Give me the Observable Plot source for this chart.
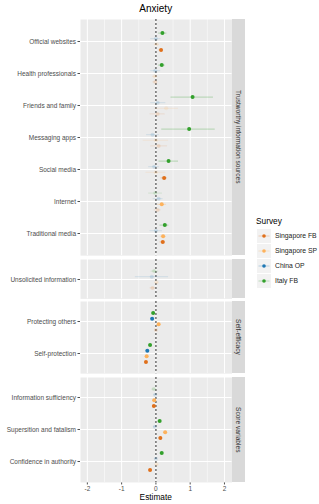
<!DOCTYPE html>
<html><head><meta charset="utf-8">
<script src="https://cdn.jsdelivr.net/npm/d3@7"></script>
<script src="https://cdn.jsdelivr.net/npm/@observablehq/plot@0.6"></script>
<style>
body{margin:0;background:#fff;font-family:"Liberation Sans",Arial,sans-serif;}
#root{position:relative;width:319px;height:504px;overflow:hidden;}
.abs{position:absolute;}
.strip{position:absolute;background:#d9d9d9;display:flex;align-items:center;justify-content:center;}
.strip span{writing-mode:vertical-rl;font-size:6.6px;color:#333;white-space:nowrap;}
</style>
</head><body><div id="root"></div>
<script>
// ---- data ----
const series = ["Singapore FB", "Singapore SP", "China OP", "Italy FB"];
const seriesColors = ["#e0701b", "#fdb25c", "#1f78b4", "#33a02c"];
const groups = ["Trustworthy information sources", "Unsolicited information", "Self-efficacy", "Score variables"];
const groupLabels = ["Trustworthy information sources", "", "Self-efficacy", "Score variables"];
const categories = ["Official websites", "Health professionals", "Friends and family", "Messaging apps", "Social media", "Internet", "Traditional media",
  "Unsolicited information", "Protecting others", "Self-protection", "Information sufficiency", "Supersition and fatalism", "Confidence in authority"];
const categoryGroup = [0,0,0,0,0,0,0,1,2,2,3,3,3];
const xTicks = [-2, -1, 0, 1, 2];

const singaporeFB_est = [0.15, -0.02, 0.05, 0.08, 0.24, 0.05, 0.20, -0.10, 0.00, -0.29, -0.06, 0.13, -0.17];
const singaporeFB_lo  = [0.09, -0.09, -0.17, -0.15, 0.15, -0.05, 0.12, -0.17, -0.04, -0.33, -0.10, 0.09, -0.21];
const singaporeFB_hi  = [0.21, 0.05, 0.27, 0.34, 0.34, 0.15, 0.28, 0.00, 0.04, -0.25, -0.02, 0.17, -0.13];
const singaporeFB_sig = [1,0,0,0,1,0,1,0,0,1,1,1,1];

const singaporeSP_est = [0.02, -0.03, 0.30, 0.00, 0.00, 0.17, 0.21, 0.02, 0.08, -0.27, -0.05, 0.27, 0.02];
const singaporeSP_lo  = [-0.05, -0.10, -0.02, -0.37, -0.29, 0.05, 0.13, -0.04, 0.04, -0.31, -0.09, 0.22, -0.03];
const singaporeSP_hi  = [0.10, 0.05, 0.66, 0.37, 0.29, 0.31, 0.30, 0.08, 0.12, -0.23, -0.01, 0.32, 0.07];
const singaporeSP_sig = [0,0,0,0,0,1,1,0,1,1,1,1,0];

const chinaOP_est = [0.00, -0.02, 0.05, -0.10, -0.05, 0.08, 0.00, -0.12, -0.11, -0.25, -0.02, -0.03, 0.00];
const chinaOP_lo  = [-0.15, -0.15, -0.15, -0.27, -0.21, -0.08, -0.17, -0.60, -0.15, -0.29, -0.06, -0.07, -0.04];
const chinaOP_hi  = [0.15, 0.14, 0.29, 0.10, 0.10, 0.21, 0.19, 0.37, -0.07, -0.21, 0.02, 0.01, 0.04];
const chinaOP_sig = [0,0,0,0,0,0,0,0,1,1,0,0,0];

const italyFB_est = [0.19, 0.17, 1.07, 0.97, 0.37, -0.02, 0.26, -0.05, -0.08, -0.17, -0.06, 0.11, 0.17];
const italyFB_lo  = [0.08, 0.08, 0.44, 0.17, 0.09, -0.21, 0.12, -0.14, -0.12, -0.21, -0.12, 0.06, 0.12];
const italyFB_hi  = [0.32, 0.27, 1.68, 1.73, 0.66, 0.19, 0.38, 0.08, -0.04, -0.13, 0.00, 0.16, 0.22];
const italyFB_sig = [1,1,1,1,1,0,1,0,1,1,0,1,1];

// ---- build table ----
const seriesData = [
  [singaporeFB_est, singaporeFB_lo, singaporeFB_hi, singaporeFB_sig],
  [singaporeSP_est, singaporeSP_lo, singaporeSP_hi, singaporeSP_sig],
  [chinaOP_est, chinaOP_lo, chinaOP_hi, chinaOP_sig],
  [italyFB_est, italyFB_lo, italyFB_hi, italyFB_sig]
];
const rows = [];
series.forEach((s, i) => {
  const [e, lo, hi, sig] = seriesData[i];
  categories.forEach((c, j) => {
    rows.push({series: s, category: c, group: categoryGroup[j], est: e[j], lo: lo[j], hi: hi[j], sig: sig[j]});
  });
});

// ---- layout ----
const root = document.getElementById("root");
const step = 32.8;
const gap = 3.4;
const left = 80, right = 231.5;
const dodge = {"Italy FB": -8.4, "China OP": -2.8, "Singapore SP": 2.8, "Singapore FB": 8.4};
const font = "'Liberation Sans', Arial, sans-serif";

const title = document.createElement("div");
title.className = "abs";
Object.assign(title.style, {left: left + "px", width: (right - left) + "px", top: "3px", textAlign: "center", fontSize: "10px", color: "#000"});
title.textContent = "Anxiety";
root.appendChild(title);

let yPos = 19;
groups.forEach((g, gi) => {
  const cats = categories.filter((c, j) => categoryGroup[j] === gi);
  const H = (cats.length - 1 + 1.2) * step;
  const last = gi === groups.length - 1;
  const data = rows.filter(d => d.group === gi);
  const marks = [
    Plot.frame({fill: "#ebebeb", stroke: null}),
    Plot.ruleX([-1.5, -0.5, 0.5, 1.5], {stroke: "#fff", strokeWidth: 0.5}),
    Plot.ruleX(xTicks, {stroke: "#fff", strokeWidth: 1}),
    Plot.ruleY(cats, {stroke: "#fff", strokeWidth: 1}),
    Plot.ruleX([0], {stroke: "#6e6e6e", strokeWidth: 1.5, strokeDasharray: "2,2"})
  ];
  series.forEach(s => {
    const sd = data.filter(d => d.series === s);
    marks.push(Plot.ruleY(sd, {y: "category", x1: "lo", x2: "hi", dy: dodge[s], stroke: "series", strokeWidth: 0.7, strokeOpacity: d => d.sig ? 0.45 : 0.2}));
    marks.push(Plot.dot(sd, {x: "est", y: "category", dy: dodge[s], fill: "series", r: 2, stroke: null, fillOpacity: d => d.sig ? 1 : 0.15}));
  });
  const chart = Plot.plot({
    width: 319,
    height: H + (last ? 20 : 0),
    marginLeft: left, marginRight: 319 - right, marginTop: 0, marginBottom: last ? 20 : 0,
    style: {fontSize: "6.5px", fontFamily: font, color: "#4d4d4d", background: "transparent", overflow: "visible"},
    x: {domain: [-2.2, 2.22], ticks: xTicks, tickFormat: d => String(d), tickSize: last ? 2.5 : 0, tickPadding: 1.5, label: null, axis: last ? "bottom" : null},
    y: {type: "point", domain: cats, padding: 0.6, tickSize: 2.5, tickPadding: 2, label: null},
    color: {domain: series, range: seriesColors},
    marks
  });
  const wrap = document.createElement("div");
  wrap.className = "abs";
  Object.assign(wrap.style, {left: "0px", top: yPos + "px"});
  wrap.appendChild(chart);
  root.appendChild(wrap);

  const strip = document.createElement("div");
  strip.className = "strip";
  Object.assign(strip.style, {left: (right + 0.5) + "px", width: "13px", top: yPos + "px", height: H + "px"});
  const sp = document.createElement("span");
  sp.textContent = groupLabels[gi];
  strip.appendChild(sp);
  root.appendChild(strip);

  yPos += H + gap;
});

const xl = document.createElement("div");
xl.className = "abs";
Object.assign(xl.style, {left: left + "px", width: (right - left) + "px", top: "493px", textAlign: "center", fontSize: "8.3px", color: "#000", lineHeight: "9px"});
xl.textContent = "Estimate";
root.appendChild(xl);

// legend
const lg = document.createElement("div");
lg.className = "abs";
Object.assign(lg.style, {left: "256px", top: "216px"});
let html = `<div style="font-size:8.3px;color:#000;line-height:10px;margin-bottom:2px;">Survey</div>`;
series.forEach((s, i) => {
  html += `<div style="display:flex;align-items:center;height:15px;">
    <svg width="14" height="14" style="background:#f2f2f2;margin-left:1px"><line x1="1.5" x2="12.5" y1="7" y2="7" stroke="${seriesColors[i]}" stroke-opacity="0.4" stroke-width="0.7"/><circle cx="7" cy="7" r="1.8" fill="${seriesColors[i]}"/></svg>
    <span style="font-size:6.8px;color:#222;margin-left:4px;">${s}</span></div>`;
});
lg.innerHTML = html;
root.appendChild(lg);
</script>
</body></html>
